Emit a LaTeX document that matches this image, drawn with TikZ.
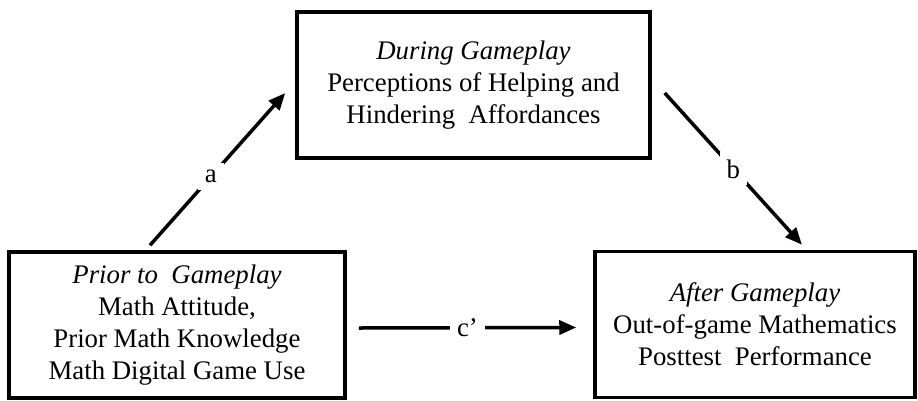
\documentclass[tikz,border=0pt]{standalone}
\usepackage{fontspec}
\setmainfont{Liberation Serif}
\usetikzlibrary{arrows.meta}

\begin{document}
\begin{tikzpicture}[x=1pt,y=-1pt,
    box/.style={draw,line width=3.5pt,align=center,minimum height=146pt,
      font=\fontsize{26.8}{32}\selectfont},
    path/.style={line width=3.5pt,-{Triangle[length=17pt,width=14pt]}},
    lbl/.style={fill=white,inner sep=7pt,font=\fontsize{26.8}{32}\selectfont}]
  \useasboundingbox (0,0) rectangle (918,400);

  \node [box,minimum width=353pt] (during) at (473.5,85)
    {\textit{During Gameplay}\\Perceptions of Helping and\\Hindering~ Affordances};
  \node [box,minimum width=336pt] (prior) at (177,325)
    {\textit{Prior to~ Gameplay}\\Math Attitude,\\Prior Math Knowledge\\Math Digital Game Use};
  \node [box,minimum width=320pt] (after) at (755,324.5)
    {\textit{After Gameplay}\\Out-of-game Mathematics\\Posttest~ Performance};

  \draw [path] ([xshift=-27pt,yshift=5pt]prior.north) -- ([xshift=-10pt,yshift=-8pt]during.west)
    node [lbl,pos=0.45] {a};
  \draw [path] ([xshift=13pt,yshift=-8pt]during.east) -- ([xshift=47pt,yshift=5pt]after.north)
    node [lbl,midway] {b};
  \draw [path] ([xshift=12pt,yshift=-3pt]prior.east) -- ([xshift=-17pt,yshift=-3pt]after.west)
    node [lbl,midway] {c’};
\end{tikzpicture}
\end{document}
